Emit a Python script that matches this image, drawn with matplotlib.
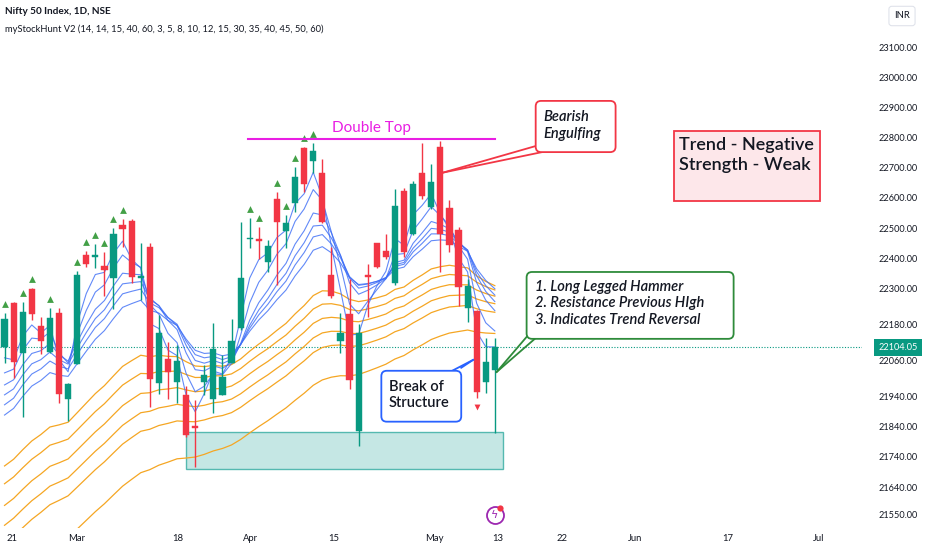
import numpy as np
import matplotlib
matplotlib.use("Agg")
import matplotlib.pyplot as plt
import matplotlib.transforms as mtransforms
from matplotlib.patches import FancyBboxPatch, Rectangle

plt.rcParams['font.family'] = ['Lato', 'DejaVu Sans']

# ---------------- data ----------------
dates = ["Feb20", "Feb21", "Feb22", "Feb23", "Feb26", "Feb27", "Feb28", "Feb29", "Mar1", "Mar2",
         "Mar4", "Mar5", "Mar6", "Mar7", "Mar11", "Mar12", "Mar13", "Mar14", "Mar15", "Mar18",
         "Mar19", "Mar20", "Mar21", "Mar22", "Mar26", "Mar27", "Mar28", "Apr1", "Apr2", "Apr3",
         "Apr4", "Apr5", "Apr8", "Apr9", "Apr10", "Apr12", "Apr15", "Apr16", "Apr18", "Apr19",
         "Apr22", "Apr23", "Apr24", "Apr25", "Apr26", "Apr29", "Apr30", "May2", "May3", "May6",
         "May7", "May8", "May9", "May10", "May13"]
opens = [22104, 22252, 22084, 22297, 22174, 22089, 22219, 21933, 22049, 22411,
         22403, 22374, 22333, 22509, 22523, 22334, 22436, 21985, 22065, 21989,
         21946, 21843, 21989, 21931, 21946, 22053, 22167, 22462, 22464, 22388,
         22596, 22490, 22582, 22767, 22724, 22682, 22344, 22126, 22215, 21827,
         22344, 22451, 22425, 22318, 22624, 22480, 22682, 22569, 22770, 22566,
         22493, 22233, 22226, 21990, 22029]
highs = [22217, 22255, 22255, 22300, 22204, 22233, 22233, 21986, 22358, 22425,
         22446, 22420, 22499, 22529, 22529, 22450, 22451, 22211, 22123, 22112,
         21976, 21929, 22045, 22184, 22078, 22197, 22520, 22532, 22502, 22460,
         22620, 22543, 22704, 22768, 22781, 22728, 22438, 22217, 22330, 22181,
         22381, 22451, 22479, 22629, 22632, 22657, 22783, 22713, 22790, 22593,
         22502, 22330, 22228, 22134, 22134]
lows = [22051, 22001, 21874, 22195, 22082, 22084, 21918, 21860, 22049, 22372,
        22366, 22274, 22230, 22436, 22318, 22260, 21907, 21948, 21931, 21920,
        21807, 21706, 21946, 21885, 21946, 22053, 22161, 22433, 22396, 22355,
        22311, 22433, 22554, 22621, 22684, 22516, 22267, 22084, 21965, 21776,
        22204, 22367, 22396, 22311, 22403, 22477, 22595, 22562, 22355, 22421,
        22241, 22189, 21935, 21951, 21819]
closes = [22199, 22056, 22220, 22215, 22125, 22202, 21948, 21983, 22344, 22381,
          22409, 22360, 22480, 22496, 22336, 22338, 21998, 22150, 22023, 22058,
          21813, 21835, 22011, 22099, 22006, 22125, 22333, 22466, 22456, 22440,
          22519, 22518, 22670, 22646, 22756, 22521, 22275, 22150, 21995, 22150,
          22338, 22372, 22405, 22573, 22421, 22646, 22606, 22653, 22480, 22444,
          22305, 22308, 21957, 22056, 22104.05]
last_price = 22104.05

# moving-average ribbons (periods from the indicator legend, start values read at the left edge)
fast_periods = [3, 5, 8, 10, 12, 15]
fast_start = [22069, 22019, 21979, 21946, 21913, 21879]
slow_periods = [30, 35, 40, 45, 50, 60]
slow_start = [21710, 21651, 21579, 21513, 21452, 21306]

buy_signal_bars = [0, 2, 3, 5, 8, 9, 10, 11, 12, 13, 27, 28, 30, 31, 32, 33, 34]
sell_signal_bars = [52]

price_ticks = [23100, 23000, 22900, 22800, 22700, 22600, 22500, 22400, 22300,
               22180, 22060, 21940, 21840, 21740, 21640, 21550]
date_tick_pos = [0.8, 7.9, 19.1, 27.1, 36.3, 47.3, 54.3, 61.4, 69.5, 79.6, 89.7]
date_tick_labels = ["21", "Mar", "18", "Apr", "15", "May", "13", "22", "Jun", "17", "Jul"]

double_top_level = 22795
zone_low, zone_high = 21700, 21822
zone_start, zone_end = 20.0, 54.9

# ---------------- styling ----------------
GREEN = '#089981'
RED = '#f23645'
BLUE = '#3b6cf6'
ORANGE = '#f5a623'
TEXT = '#131722'
MAGENTA = '#e91ee3'

W, H = 932, 550
fig = plt.figure(figsize=(W / 100, H / 100), dpi=100)
ax = fig.add_axes([0, 22 / H, 862 / W, 528 / H])
ax.set_xlim(-0.5, 94.44)
ax.set_ylim(21504, 23257)
for s in ax.spines.values():
    s.set_visible(False)

n = len(closes)
x = np.arange(n)
o = np.array(opens, float); c = np.array(closes, float)
h = np.array(highs, float); l = np.array(lows, float)


def ema(vals, period, start):
    a = 2.0 / (period + 1)
    out = [start]
    for v in vals[1:]:
        out.append(a * v + (1 - a) * out[-1])
    return np.array(out)


for p, s0 in zip(slow_periods, slow_start):
    ax.plot(x, ema(c, p, s0), color=ORANGE, lw=0.9, zorder=2)
for p, s0 in zip(fast_periods, fast_start):
    ax.plot(x, ema(c, p, s0), color=BLUE, lw=0.8, alpha=0.8, zorder=2)

# demand zone
ax.add_patch(Rectangle((zone_start, zone_low), zone_end - zone_start, zone_high - zone_low,
                       facecolor='#b2dfdb', edgecolor='#26a69a', lw=1.0, alpha=0.75, zorder=1.5))

# candles
cols = np.where(c >= o, GREEN, RED)
ax.vlines(x, l, h, colors=cols, lw=1.0, zorder=3)
body_low = np.minimum(o, c)
body_h = np.maximum(np.abs(c - o), 5)
ax.bar(x, body_h, bottom=body_low, width=0.68, color=cols, edgecolor=cols, lw=0.3, zorder=4)

# signals
ax.scatter(x[buy_signal_bars], h[buy_signal_bars] + 30, marker='^', s=24, color='#43a047',
           zorder=5, linewidths=0)
ax.scatter(x[sell_signal_bars], l[sell_signal_bars] - 28, marker='v', s=18, color=RED,
           zorder=5, linewidths=0)

# last price line
ax.axhline(last_price, color=GREEN, lw=0.8, ls=(0, (1, 1.5)), zorder=1)

# double top
ax.plot([26.8, 54.0], [double_top_level, double_top_level], color=MAGENTA, lw=1.5, zorder=5)
ax.text(40.4, double_top_level + 15, "Double Top", color=MAGENTA, fontsize=11,
        ha='center', va='bottom', zorder=6)

ASP = 30.0  # price units per index unit for rounded corners


def callout(x0, x1, y0, y1, ec, lw=1.3, r=0.6):
    ax.add_patch(FancyBboxPatch((x0, y0), x1 - x0, y1 - y0,
                                boxstyle=f"round,pad=0,rounding_size={r}",
                                mutation_aspect=ASP, facecolor='white', edgecolor=ec,
                                lw=lw, zorder=8))


# Bearish engulfing
ax.plot([48.3, 58.6], [22684, 22773], color=RED, lw=1.3, zorder=7)
ax.plot([48.3, 59.2], [22684, 22752], color=RED, lw=1.3, zorder=7)
callout(58.5, 67.3, 22752, 22922, RED)
ax.text(59.3, 22869, "Bearish", fontsize=10.5, style='italic', fontweight='semibold',
        color=TEXT, va='center', zorder=9)
ax.text(59.3, 22812, "Engulfing", fontsize=10.5, style='italic', fontweight='semibold',
        color=TEXT, va='center', zorder=9)

# Trend box
ax.add_patch(Rectangle((73.7, 22590), 16.1, 232, facecolor='#fde7ea', edgecolor=RED,
                       lw=1.3, zorder=8))
ax.text(74.3, 22776, "Trend - Negative", fontsize=13, fontweight='semibold', color=TEXT,
        va='center', zorder=9)
ax.text(74.3, 22710, "Strength - Weak", fontsize=13, fontweight='semibold', color=TEXT,
        va='center', zorder=9)

# green callout
GC = '#2e8b3a'
ax.plot([54.2, 57.6], [22022, 22142], color=GC, lw=1.3, zorder=7)
ax.plot([54.2, 58.4], [22022, 22132], color=GC, lw=1.3, zorder=7)
callout(57.5, 80.3, 22132, 22354, GC)
for yy, t in zip([22305, 22252, 22195], ["1. Long Legged Hammer", "2. Resistance Previous HIgh",
                                         "3. Indicates Trend Reversal"]):
    ax.text(58.4, yy, t, fontsize=10.5, style='italic', fontweight='semibold', color=TEXT,
            va='center', zorder=9)

# break of structure
BC = '#2962ff'
ax.plot([51.6, 49.3], [22062, 22026], color=BC, lw=1.3, zorder=7)
ax.plot([51.6, 50.3], [22062, 22036], color=BC, lw=1.3, zorder=7)
callout(41.5, 50.3, 21857, 22026, BC)
ax.text(42.3, 21973, "Break of", fontsize=10.5, fontweight='semibold', color=TEXT,
        va='center', zorder=9)
ax.text(42.3, 21918, "Structure", fontsize=10.5, fontweight='semibold', color=TEXT,
        va='center', zorder=9)

# ticks
ax.yaxis.tick_right()
ax.set_yticks(price_ticks)
ax.set_yticklabels([f"{v:.2f}" for v in price_ticks])
ax.tick_params(axis='y', length=0, pad=12, labelsize=6.6, labelcolor=TEXT)
ax.set_xticks(date_tick_pos)
ax.set_xticklabels(date_tick_labels)
ax.tick_params(axis='x', length=0, pad=4, labelsize=6.8, labelcolor=TEXT)

# last price tag
trans = mtransforms.blended_transform_factory(ax.transAxes, ax.transData)
ax.text(1.0186, last_price, f"{last_price:.2f}", transform=trans, fontsize=6.6, color='white',
        va='center', ha='left', zorder=10, clip_on=False,
        bbox=dict(boxstyle='square,pad=0.45', fc=GREEN, ec='none'))

# header texts
fig.text(5 / W, 1 - 12 / H, "Nifty 50 Index, 1D, NSE", fontsize=7.2, color=TEXT,
         fontweight='bold', va='center')
fig.text(5 / W, 1 - 29 / H,
         "myStockHunt V2 (14, 14, 15, 40, 60, 3, 5, 8, 10, 12, 15, 30, 35, 40, 45, 50, 60)",
         fontsize=6.75, color=TEXT, va='center')
fig.text(902 / W, 1 - 16 / H, "INR", fontsize=6.8, color=TEXT, ha='center', va='center',
         bbox=dict(boxstyle='round,pad=0.55,rounding_size=0.3', fc='white', ec='#e0e3eb', lw=0.8))

# event icon (drawn in display units so it stays round)
icon_x, icon_y = 54.0, 21547
ax.scatter([icon_x], [icon_y], s=150, facecolors='white', edgecolors='#9c27b0',
           linewidths=1.3, zorder=6, clip_on=False)
ax.text(icon_x, icon_y, "ϟ", color='#9c27b0', fontsize=8, ha='center', va='center',
        family='DejaVu Sans', zorder=7)
ax.scatter([icon_x + 0.6], [icon_y + 22], s=20, color=RED, zorder=8, linewidths=0,
           clip_on=False)

fig.savefig("out.png", dpi=100, facecolor='white')
